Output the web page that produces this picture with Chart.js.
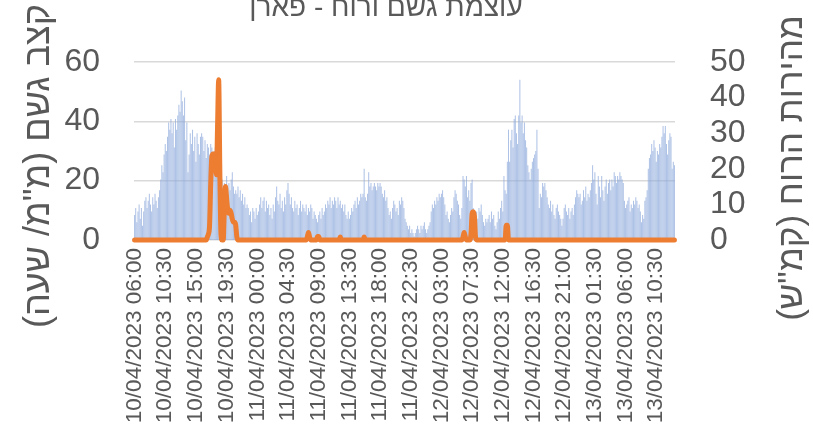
<!DOCTYPE html>
<html>
<head>
<meta charset="utf-8">
<title>עוצמת גשם ורוח - פארן</title>
<script src="https://cdn.jsdelivr.net/npm/chart.js@4.4.1/dist/chart.umd.min.js"></script>
<style>
  html, body { margin: 0; padding: 0; background: #fff; }
  canvas { display: block; }
</style>
</head>
<body>
<canvas id="chart" width="813" height="429"></canvas>
<script>
// ---- texts ----
var chartTitle = 'עוצמת גשם ורוח - פארן';
var leftTitle = 'קצב גשם (מ"מ/ שעה)';
var rightTitle = 'מהירות הרוח (קמ"ש)';

// ---- x axis: 10 minute steps from 10/04/2023 06:00, one label every 27 steps ----
var labelEvery = 27;
var tickLabels = [
  '10/04/2023 06:00', '10/04/2023 10:30', '10/04/2023 15:00', '10/04/2023 19:30',
  '11/04/2023 00:00', '11/04/2023 04:30', '11/04/2023 09:00', '11/04/2023 13:30',
  '11/04/2023 18:00', '11/04/2023 22:30', '12/04/2023 03:00', '12/04/2023 07:30',
  '12/04/2023 12:00', '12/04/2023 16:30', '12/04/2023 21:00', '13/04/2023 01:30',
  '13/04/2023 06:00', '13/04/2023 10:30'
];

// wind speed (km/h), right axis - bars
var windSpeed = [
  7,9,5,8,10,6,9,4,8,11,
  12,9,11,13,10,8,12,10,13,11,
  9,12,14,17,21,19,24,27,25,29,
  33,31,34,30,33,26,34,31,35,38,
  36,42,39,35,40,28,33,19,24,30,
  27,31,25,29,22,30,27,24,29,30,
  29,25,28,23,27,26,24,27,26,22,
  25,26,20,24,18,15,19,17,14,16,
  15,18,13,16,14,17,19,15,13,14,
  13,15,12,14,11,13,10,12,9,10,
  9,7,8,5,9,8,6,9,7,8,
  10,12,9,11,12,8,11,9,10,7,
  9,6,10,8,12,15,11,10,13,9,
  11,8,12,10,14,16,13,10,12,9,
  8,11,9,10,7,9,11,8,10,9,
  8,10,7,9,8,10,9,6,8,7,
  6,5,7,8,6,9,7,8,10,9,
  11,10,12,9,11,10,12,11,9,12,
  10,11,9,10,8,10,7,6,8,6,
  7,9,8,10,11,9,12,10,11,13,
  12,13,20,12,11,13,19,15,16,14,
  15,16,15,14,16,15,16,15,13,12,
  14,11,12,9,7,8,6,9,11,10,
  8,9,7,11,10,12,11,9,6,5,
  4,3,4,2,3,2,1,2,3,4,
  3,2,4,3,4,5,3,2,3,4,
  5,8,10,9,11,10,12,11,13,12,
  13,14,12,10,7,8,6,5,7,9,
  8,12,14,13,11,10,7,6,9,18,
  17,15,18,12,14,11,16,17,9,8,
  7,8,6,9,8,10,7,5,4,6,
  5,6,7,5,8,6,7,4,3,5,
  8,6,9,11,8,18,14,13,22,31,
  22,28,31,26,34,35,30,27,35,45,
  33,35,30,33,28,26,21,19,17,20,
  22,23,24,25,31,20,9,13,12,16,
  15,16,14,12,10,9,11,8,10,7,
  6,9,10,8,7,6,4,6,9,10,
  8,7,9,6,8,9,7,10,12,14,
  13,12,13,10,11,14,12,15,11,13,
  12,14,16,21,17,19,13,10,18,15,
  12,18,14,11,15,17,13,16,17,14,
  17,15,19,18,16,18,17,19,18,17,
  16,11,9,10,11,12,8,10,9,11,
  10,12,11,9,10,8,5,7,6,11,
  12,14,20,23,24,27,25,28,26,22,
  25,24,27,26,29,32,30,32,27,24,
  28,30,29,20,22,21
];

// rain rate (mm/h), left axis - line
var rainRate = [
  0,0,0,0,0,0,0,0,0,0,
  0,0,0,0,0,0,0,0,0,0,
  0,0,0,0,0,0,0,0,0,0,
  0,0,0,0,0,0,0,0,0,0,
  0,0,0,0,0,0,0,0,0,0,
  0,0,0,0,0,0,0,0,0,0,
  0,0,0,0,1,2,5,19,28,29,
  29,28,22,38,54,24,2,0,0,11,
  18,14,10,9,10,9,7,6,6,5,
  1,0,0,0,0,0,0,0,0,0,
  0,0,0,0,0,0,0,0,0,0,
  0,0,0,0,0,0,0,0,0,0,
  0,0,0,0,0,0,0,0,0,0,
  0,0,0,0,0,0,0,0,0,0,
  0,0,0,0,0,0,0,0,0,0,
  0,0,1,2.5,1,0,0,0,0,0,
  0,1.2,1.2,0,0,0,0,0,0,0,
  0,0,0,0,0,0,0,0,0,0,
  0,1,0,0,0,0,0,0,0,0,
  0,0,0,0,0,0,0,0,0,0,
  0,0,1,0,0,0,0,0,0,0,
  0,0,0,0,0,0,0,0,0,0,
  0,0,0,0,0,0,0,0,0,0,
  0,0,0,0,0,0,0,0,0,0,
  0,0,0,0,0,0,0,0,0,0,
  0,0,0,0,0,0,0,0,0,0,
  0,0,0,0,0,0,0,0,0,0,
  0,0,0,0,0,0,0,0,0,0,
  0,0,0,0,0,0,0,0,0,1,
  2.5,1,0,0,0,0,2,9,9.5,8,
  1,0,0,0,0,0,0,0,0,0,
  0,0,0,0,0,0,0,0,0,0,
  0,0,0,0,0,0,0,5,5,0,
  0,0,0,0,0,0,0,0,0,0,
  0,0,0,0,0,0,0,0,0,0,
  0,0,0,0,0,0,0,0,0,0,
  0,0,0,0,0,0,0,0,0,0,
  0,0,0,0,0,0,0,0,0,0,
  0,0,0,0,0,0,0,0,0,0,
  0,0,0,0,0,0,0,0,0,0,
  0,0,0,0,0,0,0,0,0,0,
  0,0,0,0,0,0,0,0,0,0,
  0,0,0,0,0,0,0,0,0,0,
  0,0,0,0,0,0,0,0,0,0,
  0,0,0,0,0,0,0,0,0,0,
  0,0,0,0,0,0,0,0,0,0,
  0,0,0,0,0,0,0,0,0,0,
  0,0,0,0,0,0
];

var categories = [];
for (var i = 0; i < windSpeed.length; i++) {
  categories.push(i % labelEvery == 0 ? tickLabels[i / labelEvery] : '');
}

var fontFam = '"Liberation Sans", Arial, sans-serif';
var textGray = '#595959';

// titles drawn rotated the same way on both sides, like the original
var titlesPlugin = {
  id: 'titles',
  afterDraw: function(chart) {
    var c = chart.ctx;
    c.save();
    c.fillStyle = textGray;
    c.direction = 'rtl';
    c.textAlign = 'center';
    c.textBaseline = 'alphabetic';
    c.font = '28px ' + fontFam;
    c.fillText(chartTitle, 386, 16);

    c.textBaseline = 'middle';
    c.font = '36px ' + fontFam;
    c.save();
    c.translate(39, 166);
    c.rotate(-Math.PI / 2);
    c.fillText(leftTitle, 0, 0);
    c.restore();

    c.font = '35px ' + fontFam;
    c.save();
    c.translate(792, 168);
    c.rotate(-Math.PI / 2);
    c.fillText(rightTitle, 0, 0);
    c.restore();
    c.restore();
  }
};

new Chart(document.getElementById('chart').getContext('2d'), {
  type: 'bar',
  data: {
    labels: categories,
    datasets: [
      {
        type: 'line',
        label: 'קצב גשם',
        data: rainRate,
        yAxisID: 'y',
        borderColor: '#ed7d31',
        borderWidth: 5,
        pointRadius: 0,
        cubicInterpolationMode: 'monotone',
        borderJoinStyle: 'round',
        borderCapStyle: 'round',
        clip: false,
        order: 0
      },
      {
        type: 'bar',
        label: 'מהירות הרוח',
        data: windSpeed,
        yAxisID: 'y1',
        backgroundColor: 'rgba(143,170,220,0.72)',
        categoryPercentage: 1,
        barPercentage: 0.9,
        order: 1
      }
    ]
  },
  options: {
    responsive: false,
    animation: false,
    layout: { padding: { top: 62 } },
    plugins: {
      legend: { display: false },
      tooltip: { enabled: false },
      title: { display: false }
    },
    scales: {
      x: {
        grid: { display: false, drawTicks: false },
        border: { display: false },
        ticks: {
          autoSkip: false,
          minRotation: 90,
          maxRotation: 90,
          padding: 8,
          color: textGray,
          font: { family: fontFam, size: 22.5 }
        },
        afterFit: function(s) { s.height = 189; }
      },
      y: {
        position: 'left',
        min: 0,
        max: 60,
        ticks: { stepSize: 20, autoSkip: false, padding: 34, color: textGray, font: { family: fontFam, size: 32 } },
        grid: { color: '#d9d9d9', lineWidth: 1.5, drawTicks: false },
        border: { display: false },
        afterFit: function(s) { s.width = 134; }
      },
      y1: {
        position: 'right',
        min: 0,
        max: 50,
        ticks: { stepSize: 10, autoSkip: false, padding: 35, color: textGray, font: { family: fontFam, size: 32 } },
        grid: { display: false, drawTicks: false },
        border: { display: false },
        afterFit: function(s) { s.width = 138; }
      }
    }
  },
  plugins: [titlesPlugin]
});
</script>
</body>
</html>
